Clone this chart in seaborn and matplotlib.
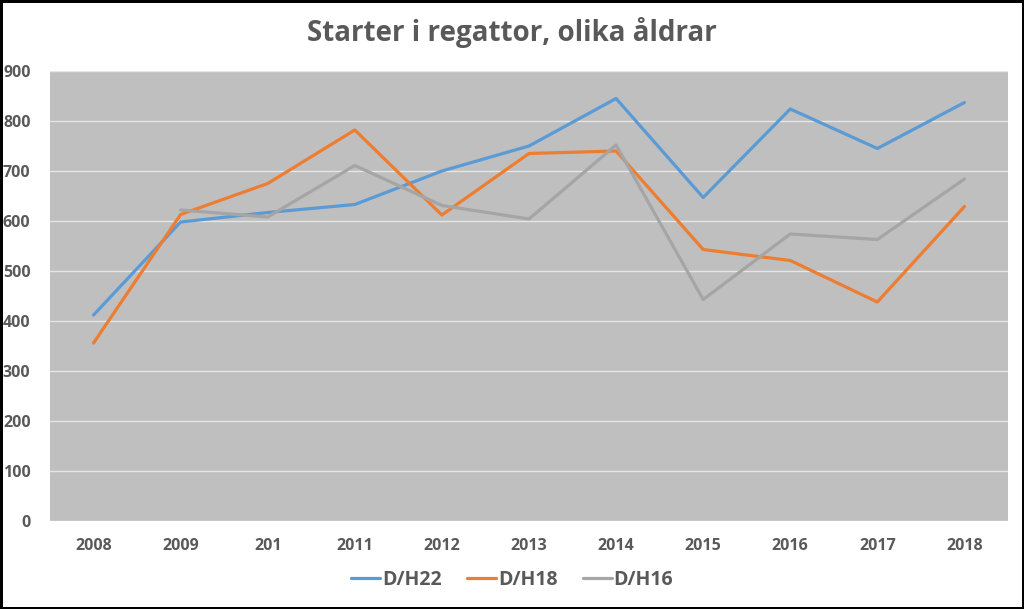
import matplotlib
matplotlib.use("Agg")
import matplotlib.pyplot as plt
import seaborn as sns
import pandas as pd
import numpy as np

years = ["2008", "2009", "201", "2011", "2012", "2013", "2014", "2015", "2016", "2017", "2018"]
dh22 = [412, 598, 617, 633, 700, 750, 845, 647, 824, 745, 837]
dh18 = [356, 613, 675, 782, 612, 735, 740, 543, 521, 438, 629]
dh16 = [np.nan, 622, 608, 711, 631, 604, 752, 443, 574, 563, 684]
series_names = ["D/H22", "D/H18", "D/H16"]
colors = ["#5B9BD5", "#ED7D31", "#A5A5A5"]
title = "Starter i regattor, olika åldrar"

rows = []
for name, vals in zip(series_names, [dh22, dh18, dh16]):
    for i, (y, v) in enumerate(zip(years, vals)):
        rows.append({"pos": i, "year": y, "value": v, "series": name})
df = pd.DataFrame(rows)

sns.set_theme(style="white")
plt.rcParams["font.family"] = ["Open Sans", "DejaVu Sans"]

fig = plt.figure(figsize=(10.24, 6.09), dpi=100, facecolor="white",
                 edgecolor="black", linewidth=2.5)
ax = fig.add_axes([50/1024, 1 - 521/609, 958/1024, 450/609])
ax.set_facecolor("#BFBFBF")

sns.lineplot(data=df, x="pos", y="value", hue="series", hue_order=series_names,
             palette=colors, linewidth=2.3, ax=ax, legend=True)

ax.set_xlim(-0.5, len(years) - 0.5)
ax.set_ylim(0, 900)
ax.set_yticks(range(0, 901, 100))
ax.set_xticks(range(len(years)))
ax.set_xticklabels(years)
ax.yaxis.grid(True, color="#E6E6E6", linewidth=1)
ax.set_axisbelow(True)
for s in ax.spines.values():
    s.set_visible(False)
ax.tick_params(axis="both", length=0, labelsize=11.5, labelcolor="#595959")
ax.tick_params(axis="x", pad=12)
ax.tick_params(axis="y", pad=14)
for lab in ax.get_xticklabels() + ax.get_yticklabels():
    lab.set_fontweight("bold")
    lab.set_color("#595959")
ax.set_xlabel("")
ax.set_ylabel("")

handles, labels = ax.get_legend_handles_labels()
ax.legend(handles, labels, loc="center", bbox_to_anchor=(0.5, 1 - 580/609),
          bbox_transform=fig.transFigure, ncol=3, frameon=False,
          prop={"size": 14, "weight": "bold"}, labelcolor="#595959",
          handlelength=1.5, handletextpad=0.1, columnspacing=1.3)

fig.text(0.5, 1 - 33/609, title, ha="center", va="center", fontsize=20,
         fontweight="bold", color="#595959")

fig.savefig("out.png", dpi=100)
